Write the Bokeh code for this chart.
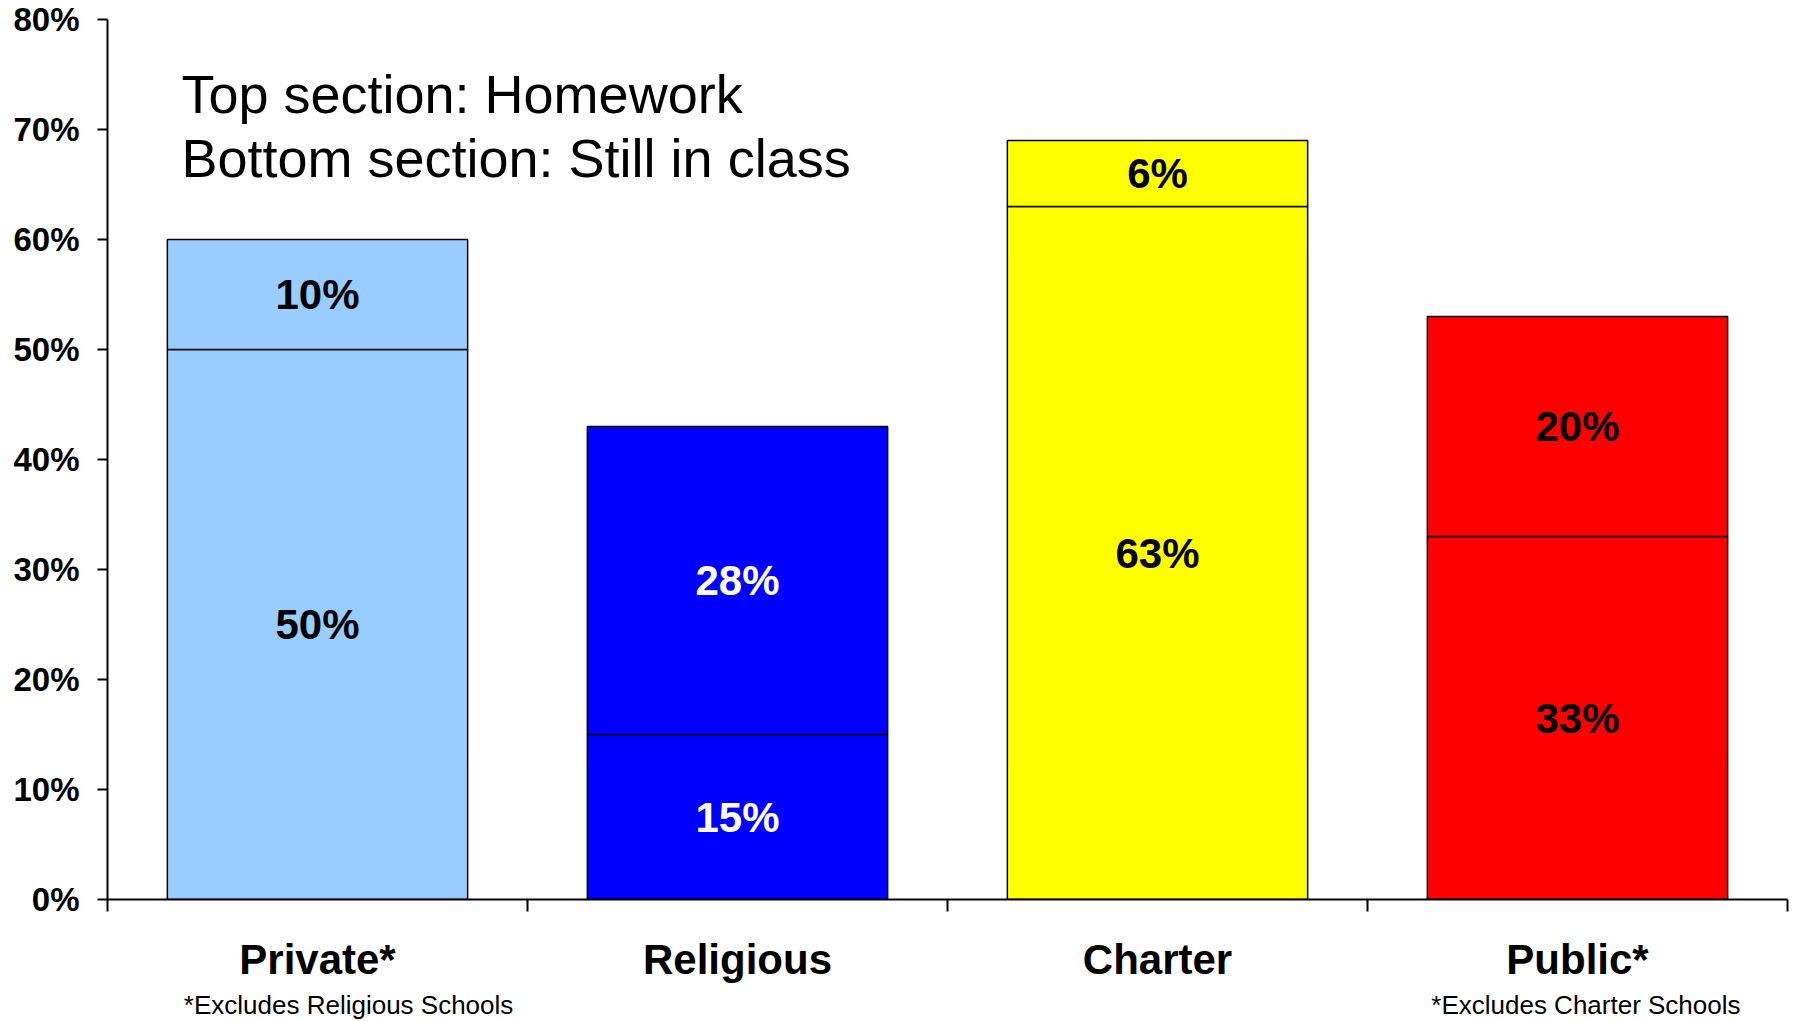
from bokeh.plotting import figure
from bokeh.models import FixedTicker, Range1d, Label, ColumnDataSource, LinearAxis
from bokeh.core.properties import value
from bokeh.embed import file_html
from bokeh.resources import INLINE

# ---- data ----
categories = ["Private*", "Religious", "Charter", "Public*"]
still_in_class = [50, 15, 63, 33]   # bottom section
homework = [10, 28, 6, 20]          # top section
bar_colors = ["#99CCFF", "#0000FF", "#FFFF00", "#FF0000"]
label_colors = ["black", "white", "black", "black"]
footnotes = {"Private*": "*Excludes Religious Schools", "Public*": "*Excludes Charter Schools"}
y_ticks = [0, 10, 20, 30, 40, 50, 60, 70, 80]
annotation_lines = ["Top section: Homework", "Bottom section: Still in class"]

FONT = "Liberation Sans"

xs = [i + 0.5 for i in range(len(categories))]
tops_total = [b + t for b, t in zip(still_in_class, homework)]

p = figure(frame_width=1680, frame_height=880,
           x_range=Range1d(0, 4), y_range=Range1d(0, 80),
           output_backend="svg", toolbar_location=None)
p.min_border_left = 107
p.min_border_top = 19
p.min_border_right = 8
p.min_border_bottom = 121
p.outline_line_color = None
p.background_fill_color = "white"
p.border_fill_color = "white"
p.xgrid.visible = False
p.ygrid.visible = False

BAR_W = 0.715
src_bottom = ColumnDataSource(dict(x=xs, top=still_in_class, bottom=[0] * 4, color=bar_colors))
src_top = ColumnDataSource(dict(x=xs, top=tops_total, bottom=still_in_class, color=bar_colors))
p.vbar(x="x", top="top", bottom="bottom", width=BAR_W, fill_color="color",
       line_color="black", line_width=1.5, source=src_bottom)
p.vbar(x="x", top="top", bottom="bottom", width=BAR_W, fill_color="color",
       line_color="black", line_width=1.5, source=src_top)

# segment labels
lab_x, lab_y, lab_t, lab_c = [], [], [], []
for x, b, t, c in zip(xs, still_in_class, homework, label_colors):
    lab_x += [x, x]
    lab_y += [b / 2, b + t / 2]
    lab_t += [f"{b}%", f"{t}%"]
    lab_c += [c, c]
p.text(x=lab_x, y=lab_y, text=lab_t, text_color=lab_c,
       text_font=value(FONT), text_font_style="bold", text_font_size="42px",
       text_align="center", text_baseline="middle")

# y axis
yax = p.yaxis[0]
yax.ticker = FixedTicker(ticks=y_ticks)
yax.major_label_overrides = {v: f"{v}%" for v in y_ticks}
yax.major_label_text_font = FONT
yax.major_label_text_font_style = "bold"
yax.major_label_text_font_size = "33px"
yax.major_label_text_color = "black"
yax.axis_line_color = "black"
yax.axis_line_width = 2
yax.major_tick_line_color = "black"
yax.major_tick_line_width = 2
yax.major_tick_out = 10
yax.major_tick_in = 0
yax.minor_tick_line_color = None
yax.major_label_standoff = 18

# x axis: labels at category centres, ticks at boundaries
xax = p.xaxis[0]
xax.ticker = FixedTicker(ticks=xs, minor_ticks=[0, 1, 2, 3, 4])
xax.major_label_overrides = {x: c for x, c in zip(xs, categories)}
xax.major_label_text_font = FONT
xax.major_label_text_font_style = "bold"
xax.major_label_text_font_size = "42px"
xax.major_label_text_color = "black"
xax.axis_line_color = "black"
xax.axis_line_width = 2
xax.major_tick_line_color = None
xax.major_tick_out = 0
xax.major_tick_in = 0
xax.minor_tick_line_color = "black"
xax.minor_tick_line_width = 2
xax.minor_tick_out = 12
xax.minor_tick_in = 0
xax.major_label_standoff = 24

# footnotes: a second, line-less axis below the category labels
foot_offsets = {"Private*": 0.074, "Public*": 0.02}
foot_pos = {xs[categories.index(c)] + foot_offsets[c]: n for c, n in footnotes.items()}
fax = LinearAxis(ticker=FixedTicker(ticks=list(foot_pos.keys()), minor_ticks=[]),
                 major_label_overrides=foot_pos)
fax.axis_line_color = None
fax.major_tick_line_color = None
fax.minor_tick_line_color = None
fax.major_tick_out = 0
fax.major_tick_in = 0
fax.major_label_text_font = FONT
fax.major_label_text_font_size = "26px"
fax.major_label_text_color = "black"
fax.major_label_standoff = 4
p.add_layout(fax, "below")

# annotation text
for k, line in enumerate(annotation_lines):
    p.add_layout(Label(x=0.176, y=73.2 - 5.8 * k, text=line,
                       text_font=FONT, text_font_size="54px", text_color="black",
                       text_align="left", text_baseline="middle"))

open("out.html", "w").write(file_html(p, INLINE))
